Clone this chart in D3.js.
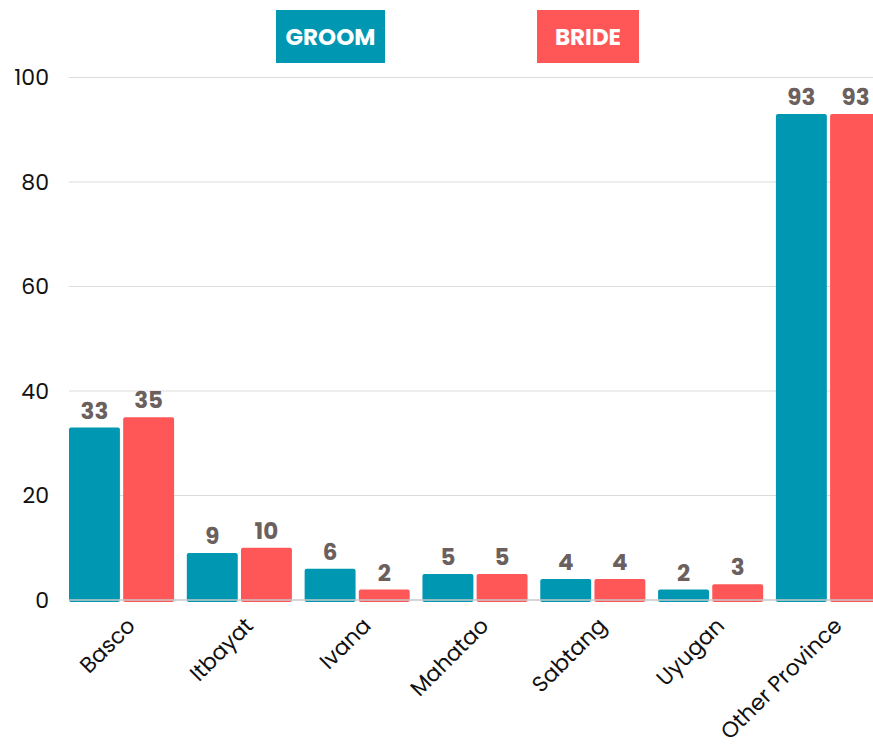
<!DOCTYPE html>
<html>
<head>
<meta charset="utf-8">
<script src="https://cdn.jsdelivr.net/npm/d3@7"></script>
<style>
  body { margin: 0; background: #fff; }
  svg { display: block; font-family: "Poppins", "Inter", sans-serif; }
</style>
</head>
<body>
<script>
    // chart values
    var categories = ["Basco", "Itbayat", "Ivana", "Mahatao", "Sabtang", "Uyugan", "Other Province"];
    var seriesNames = ["GROOM", "BRIDE"];
    var groomValues = [33, 9, 6, 5, 4, 2, 93];
    var brideValues = [35, 10, 2, 5, 4, 3, 93];
    var yTicks = [0, 20, 40, 60, 80, 100];

    var colors = {GROOM: "#0097b2", BRIDE: "#ff5757"};

    var width = 873, height = 751;
    var margin = {top: 77.5, left: 69, bottom: 151};

    var rows = categories.map(function(c, i) {
        return {name: c, values: [
            {key: "GROOM", value: groomValues[i]},
            {key: "BRIDE", value: brideValues[i]}
        ]};
    });

    var svg = d3.select("body").append("svg")
        .attr("width", width)
        .attr("height", height);

    // Set the ranges
    var x0 = d3.scaleBand()
        .domain(categories)
        .range([margin.left, 881])
        .paddingInner(0.108)
        .paddingOuter(0);

    var x1 = d3.scaleBand()
        .domain(seriesNames)
        .range([0, x0.bandwidth()])
        .paddingInner(0.06);

    var y = d3.scaleLinear()
        .domain([0, 100])
        .range([height - margin.bottom, margin.top]);

    // grid lines
    svg.append("g")
        .selectAll("line")
        .data(yTicks.filter(function(d) { return d > 0; }))
        .enter().append("line")
        .attr("x1", margin.left)
        .attr("x2", width)
        .attr("y1", function(d) { return y(d); })
        .attr("y2", function(d) { return y(d); })
        .attr("stroke", "#dcdcdc")
        .attr("stroke-width", 1);

    // y axis
    var yAxis = svg.append("g")
        .attr("transform", "translate(" + margin.left + ",0)")
        .call(d3.axisLeft(y).tickValues(yTicks).tickSize(0).tickPadding(20));
    yAxis.select(".domain").remove();
    yAxis.selectAll("text")
        .attr("font-size", 22)
        .attr("font-family", "Poppins, Inter, sans-serif")
        .attr("fill", "#111");

    // bars
    var groups = svg.append("g")
        .selectAll("g")
        .data(rows)
        .enter().append("g")
        .attr("transform", function(d) { return "translate(" + x0(d.name) + ",0)"; });

    groups.selectAll("rect")
        .data(function(d) { return d.values; })
        .enter().append("rect")
        .attr("x", function(d) { return x1(d.key); })
        .attr("y", function(d) { return y(d.value); })
        .attr("width", x1.bandwidth())
        .attr("height", function(d) { return y(0) - y(d.value) + 2; })
        .attr("rx", 2)
        .attr("fill", function(d) { return colors[d.key]; });

    // baseline
    svg.append("line")
        .attr("x1", margin.left)
        .attr("x2", width)
        .attr("y1", y(0))
        .attr("y2", y(0))
        .attr("stroke", "#c8c8c8")
        .attr("stroke-width", 1.5);

    // value labels
    groups.selectAll("text.val")
        .data(function(d) { return d.values; })
        .enter().append("text")
        .attr("class", "val")
        .attr("x", function(d) { return x1(d.key) + x1.bandwidth() / 2; })
        .attr("y", function(d) { return y(d.value) - 9; })
        .attr("text-anchor", "middle")
        .attr("font-size", 23)
        .attr("font-weight", "bold")
        .attr("fill", "#6b605d")
        .text(function(d) { return d.value; });

    // x axis labels
    svg.append("g")
        .selectAll("text")
        .data(categories)
        .enter().append("text")
        .attr("transform", function(d) {
            return "translate(" + (x0(d) + x0.bandwidth() / 2 + 15) + "," + (y(0) + 27) + ") rotate(-45)";
        })
        .attr("text-anchor", "end")
        .attr("font-size", 22)
        .attr("fill", "#111")
        .text(function(d) { return d; });

    // legend
    var legendBoxes = [
        {key: "GROOM", x: 276, w: 109},
        {key: "BRIDE", x: 537, w: 102}
    ];
    var legend = svg.append("g")
        .selectAll("g")
        .data(legendBoxes)
        .enter().append("g")
        .attr("transform", function(d) { return "translate(" + d.x + ",10)"; });

    legend.append("rect")
        .attr("width", function(d) { return d.w; })
        .attr("height", 53)
        .attr("fill", function(d) { return colors[d.key]; });

    legend.append("text")
        .attr("x", function(d) { return d.w / 2; })
        .attr("y", 34.5)
        .attr("text-anchor", "middle")
        .attr("font-size", 23)
        .attr("font-weight", "bold")
        .attr("fill", "#fff")
        .text(function(d) { return d.key; });
</script>
</body>
</html>
